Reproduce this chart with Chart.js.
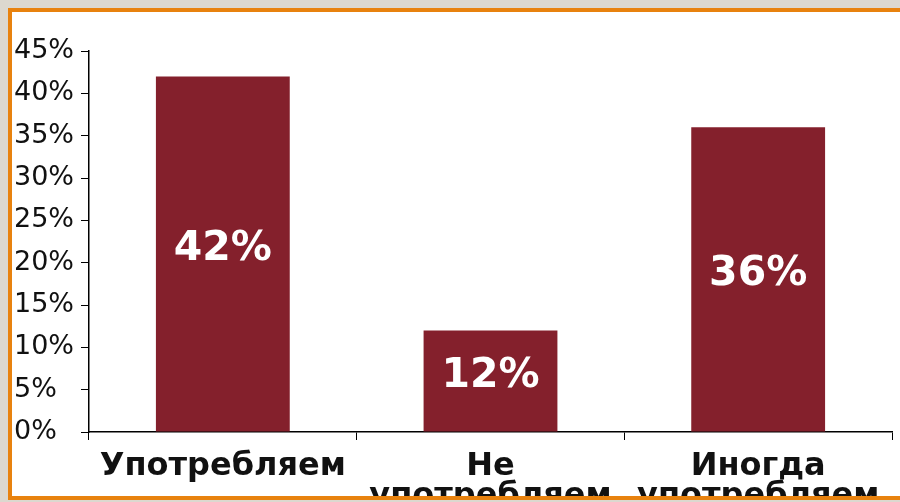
<!DOCTYPE html>
<html>
<head>
<meta charset="utf-8">
<script src="https://cdn.jsdelivr.net/npm/chart.js@4.4.1/dist/chart.umd.min.js"></script>
<style>
  html, body { margin: 0; padding: 0; background: #ffffff; overflow: hidden; }
  #wrap { position: relative; width: 900px; height: 502px; overflow: hidden; background: #ffffff; }
  #chart { position: absolute; left: 0; top: 0; }
  .strip { position: absolute; background: #dcd8cf; }
  .edge { position: absolute; background: #e8820e; }
</style>
</head>
<body>
<div id="wrap">
  <canvas id="chart" width="900" height="502"></canvas>
  <!-- slide frame -->
  <div class="strip" style="left:0;top:0;width:900px;height:8px;"></div>
  <div class="strip" style="left:0;top:0;width:8px;height:502px;"></div>
  <div class="edge" style="left:8px;top:8px;width:892px;height:4px;"></div>
  <div class="edge" style="left:8px;top:8px;width:4px;height:492px;"></div>
  <div class="edge" style="left:8px;top:496px;width:892px;height:4px;"></div>
  <div class="strip" style="left:0;top:500px;width:900px;height:2px;"></div>
</div>
<script>
const categories = [["Употребляем"], ["Не", "употребляем"], ["Иногда", "употребляем"]];
const shares = [42, 12, 36];
const yTicks = [0, 5, 10, 15, 20, 25, 30, 35, 40, 45];

const barColor = '#84202c';

const valueLabels = {
  id: 'valueLabels',
  afterDatasetsDraw(chart) {
    const ctx = chart.ctx;
    const meta = chart.getDatasetMeta(0);
    ctx.save();
    ctx.fillStyle = '#ffffff';
    ctx.font = 'bold 41px "DejaVu Sans", Verdana, sans-serif';
    ctx.textAlign = 'center';
    ctx.textBaseline = 'middle';
    meta.data.forEach((bar, i) => {
      const mid = (bar.y + bar.base) / 2 - 5;
      ctx.fillText(shares[i] + '%', bar.x, mid);
    });
    ctx.restore();
  }
};

new Chart(document.getElementById('chart'), {
  type: 'bar',
  data: {
    labels: categories,
    datasets: [{
      data: shares,
      backgroundColor: barColor,
      borderWidth: 0,
      categoryPercentage: 1,
      barPercentage: 0.5
    }]
  },
  options: {
    responsive: false,
    animation: false,
    events: [],
    layout: { padding: { left: 14, top: 51, right: 8, bottom: 0 } },
    plugins: { legend: { display: false }, tooltip: { enabled: false } },
    scales: {
      x: {
        grid: { display: true, drawOnChartArea: false, offset: true, color: '#000000', tickLength: 8, lineWidth: 1 },
        border: { display: true, color: '#000000', width: 1.5 },
        ticks: {
          color: '#111111',
          font: { family: '"DejaVu Sans", Verdana, sans-serif', size: 32, weight: 'bold', lineHeight: 0.95 },
          padding: 11,
          maxRotation: 0,
          autoSkip: false
        },
        afterFit(scale) { scale.height = 70; }
      },
      y: {
        min: 0,
        max: 45,
        afterBuildTicks(scale) { scale.ticks = yTicks.map(v => ({ value: v })); },
        grid: { display: true, drawOnChartArea: false, color: '#000000', tickLength: 8, lineWidth: 1 },
        border: { display: true, color: '#000000', width: 1.5 },
        ticks: {
          color: '#111111',
          font: { family: '"DejaVu Sans", Verdana, sans-serif', size: 27 },
          padding: 2,
          crossAlign: 'far',
          callback: v => v + '%'
        },
        afterFit(scale) { scale.width = 75; }
      }
    }
  },
  plugins: [valueLabels]
});
</script>
</body>
</html>
